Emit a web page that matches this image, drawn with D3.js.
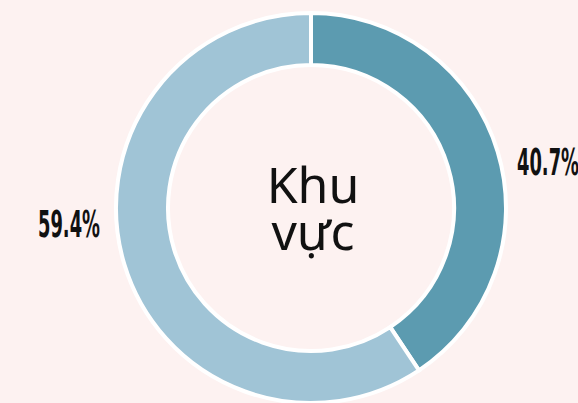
<!DOCTYPE html>
<html>
<head>
<meta charset="utf-8">
<script src="https://cdn.jsdelivr.net/npm/d3@7"></script>
<style>
  body { margin: 0; background: #fdf2f1; }
  svg { display: block; }
</style>
</head>
<body>
<svg width="578" height="403"></svg>
<script>
// **** Data ****
var regions = ["A", "B"];
var shares = [40.7, 59.4];
var shareLabels = ["40.7%", "59.4%"];
var centerLines = ["Khu", "vực"];

var colors = d3.scaleOrdinal().domain(regions).range(["#5c9bb0", "#a0c4d6"]);

var svg = d3.select("svg");
var cx = 311, cy = 208;

var pie = d3.pie().sort(null).value(function(d) { return d.value; });
var arc = d3.arc().innerRadius(143).outerRadius(195);

var data = regions.map(function(r, i) {
    return { key: r, value: shares[i], label: shareLabels[i] };
});

var g = svg.append("g").attr("transform", "translate(" + cx + "," + cy + ")");

g.selectAll("path")
    .data(pie(data))
    .enter()
    .append("path")
    .attr("d", arc)
    .style("fill", function(d) { return colors(d.data.key); })
    .style("stroke", "#ffffff")
    .style("stroke-width", 4);

// percentage labels sit outside the ring, left or right of it
var labelPos = [[206, -33], [-273, 29]];
g.selectAll("text.pct")
    .data(pie(data))
    .enter()
    .append("text")
    .attr("class", "pct")
    .attr("x", function(d, i) { return labelPos[i][0]; })
    .attr("y", function(d, i) { return labelPos[i][1]; })
    .attr("textLength", 62)
    .attr("lengthAdjust", "spacingAndGlyphs")
    .style("font-family", "'Liberation Sans Narrow', 'DejaVu Sans Condensed', sans-serif")
    .style("font-weight", "bold")
    .style("font-size", "37px")
    .style("fill", "#111")
    .text(function(d) { return d.data.label; });

// center title
g.selectAll("text.center")
    .data(centerLines)
    .enter()
    .append("text")
    .attr("class", "center")
    .attr("x", 2)
    .attr("y", function(d, i) { return -5 + i * 47; })
    .attr("text-anchor", "middle")
    .style("font-family", "'Noto Sans', 'Open Sans', sans-serif")
    .style("font-size", "50px")
    .style("fill", "#111")
    .text(function(d) { return d; });
</script>
</body>
</html>
